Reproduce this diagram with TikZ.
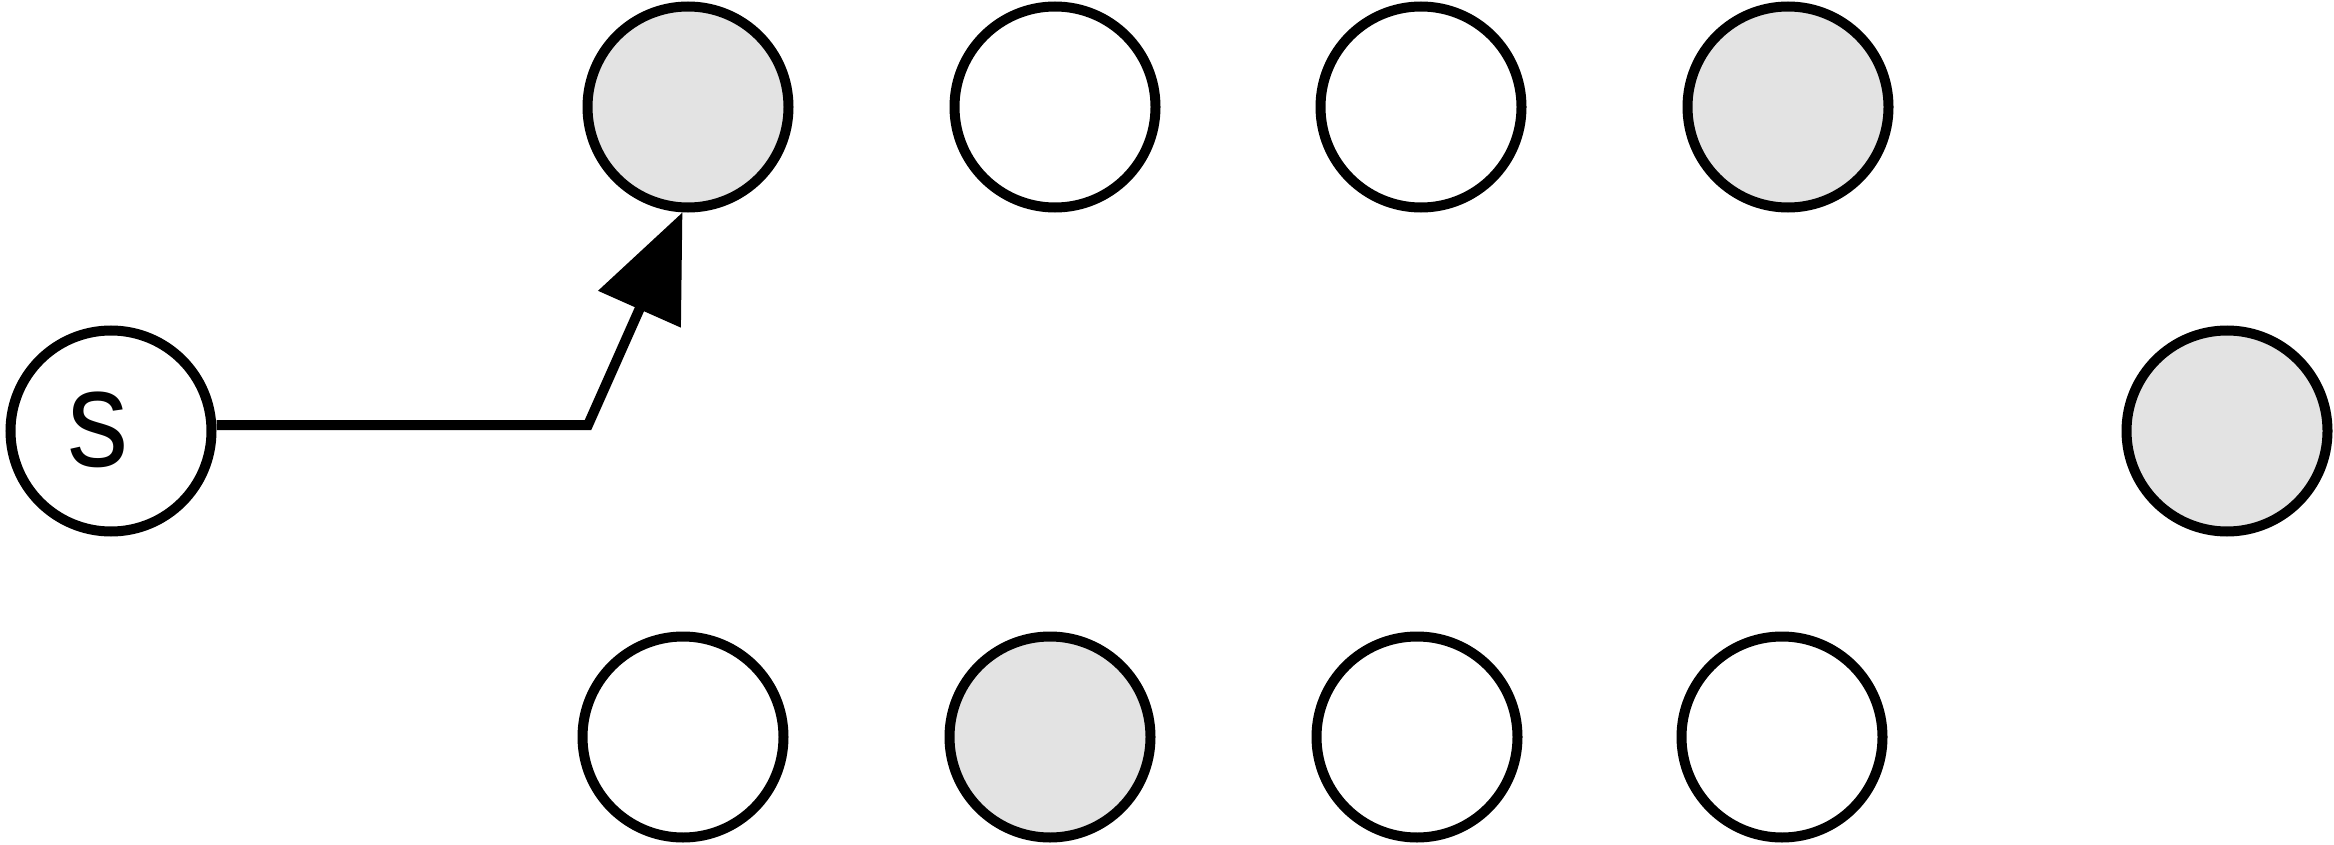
\documentclass[tikz,border=0pt]{standalone}
\usepackage{fontspec}
\setmainfont{Liberation Sans}
\usetikzlibrary{arrows.meta}
\definecolor{nodegray}{HTML}{E3E3E3}
\begin{document}
\begin{tikzpicture}[x=1pt,y=-1pt,
  vert/.style={circle, draw=black, line width=10pt, minimum size=201pt, inner sep=0pt, fill=white},
  grayvert/.style={vert, fill=nodegray},
  conn/.style={line width=10pt, draw=black}]
\useasboundingbox (0,0) rectangle (2334,845);
\node[vert] (s) at (111,431) {\fontsize{139pt}{139pt}\selectfont\hspace*{-25pt}\raisebox{3pt}{\scalebox{0.88}[1]{s}}};
\node[grayvert] (t1) at (688,107) {};
\node[vert] (t2) at (1055,107) {};
\node[vert] (t3) at (1421,107) {};
\node[grayvert] (t4) at (1788,107) {};
\node[vert] (b1) at (683,737) {};
\node[grayvert] (b2) at (1050,737) {};
\node[vert] (b3) at (1417,737) {};
\node[vert] (b4) at (1782,737) {};
\node[grayvert] (r) at (2227,431) {};
\coordinate (bend) at (588,425);
\draw[conn, -{Triangle[length=106pt,width=88pt]}] (bend -| s.east) -- (bend) -- (t1.267);
\end{tikzpicture}
\end{document}
